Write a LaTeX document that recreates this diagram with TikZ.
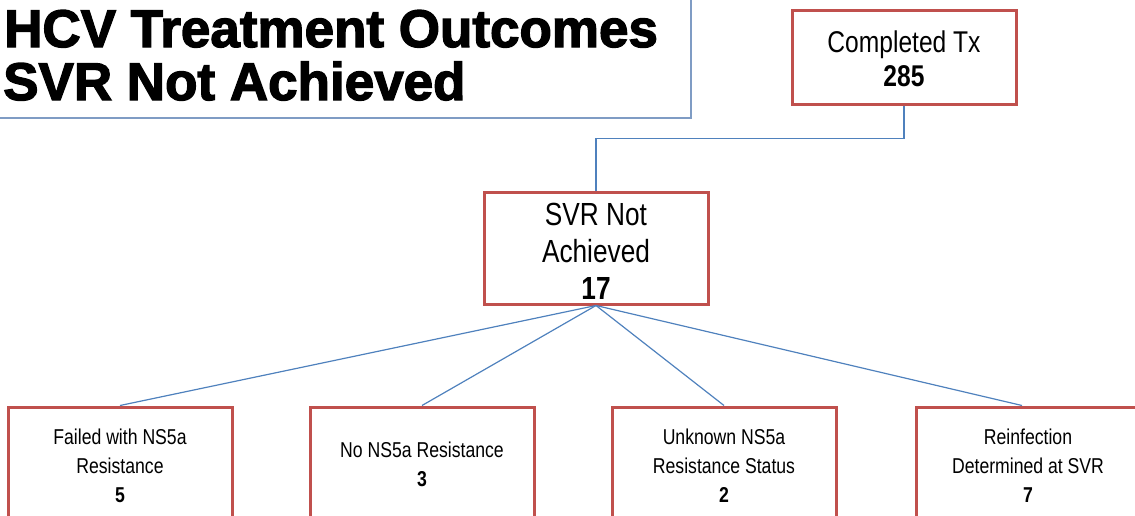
\documentclass[tikz,border=0pt]{standalone}
\usepackage{fontspec}
\setmainfont{Liberation Sans}[FakeStretch=0.82]
\newfontfamily\titlefont{Liberation Sans}[FakeBold=2.5]
\definecolor{boxred}{HTML}{C0504D}
\definecolor{linkblue}{HTML}{4F81BD}
\definecolor{framegray}{HTML}{7F9CC4}
\begin{document}
\begin{tikzpicture}[x=1pt,y=-1pt,
  box/.style={draw=boxred,line width=3pt,fill=white,minimum width=224pt,inner sep=0pt},
  bigtxt/.style={align=center,font=\fontsize{30}{34}\selectfont,inner sep=0pt},
  midtxt/.style={align=center,font=\fontsize{32}{37}\selectfont,inner sep=0pt},
  smalltxt/.style={align=center,font=\fontsize{21.5}{29}\selectfont,inner sep=0pt},
  titletxt/.style={anchor=base west,inner sep=0pt,font=\titlefont\bfseries\fontsize{53}{56}\selectfont},
  link/.style={draw=linkblue,line width=1.2pt}]
\useasboundingbox (0,0) rectangle (1135,515);
\clip (0,0) rectangle (1135,515);
% title frame
\coordinate (ftr) at (691,-2);
\coordinate (fbr) at (691,118);
\coordinate (fbl) at (0,118);
\draw[framegray,line width=1.2pt] (ftr) -- (fbr) -- (fbl);
\node[titletxt] (title1) at (4,47) {HCV Treatment Outcomes};
\node[titletxt] (title2) at (3,100) {SVR Not Achieved};
% top box
\node[box,minimum height=94pt] (ctx) at (904,57) {};
\node[bigtxt] (ctxt) at (904,59) {Completed Tx\\\textbf{285}};
% middle box
\node[box,minimum height=112pt] (svr) at (596,248) {};
\node[midtxt] (svrt) at (596,251) {SVR Not\\Achieved\\\textbf{17}};
% bottom boxes
\node[box,minimum height=130pt] (b1) at (120,472) {};
\node[box,minimum height=130pt] (b2) at (422,472) {};
\node[box,minimum height=130pt] (b3) at (724,472) {};
\node[box,minimum height=130pt] (b4) at (1028,472) {};
\node[smalltxt] (t1) at (120,465.5) {Failed with NS5a\\Resistance\\\textbf{5}};
\node[smalltxt] (t2) at (422,464.5) {No NS5a Resistance\\\textbf{3}};
\node[smalltxt] (t3) at (724,465.5) {Unknown NS5a\\Resistance Status\\\textbf{2}};
\node[smalltxt] (t4) at (1028,465.5) {Reinfection\\Determined at SVR\\\textbf{7}};
% connectors
\draw[link] (ctx.south) -- ++(0,33) -| (svr.north);
\draw[link] (svr.south) -- (b1.north);
\draw[link] (svr.south) -- (b2.north);
\draw[link] (svr.south) -- (b3.north);
\draw[link] (svr.south) -- ([xshift=-6pt]b4.north);
\end{tikzpicture}
\end{document}
